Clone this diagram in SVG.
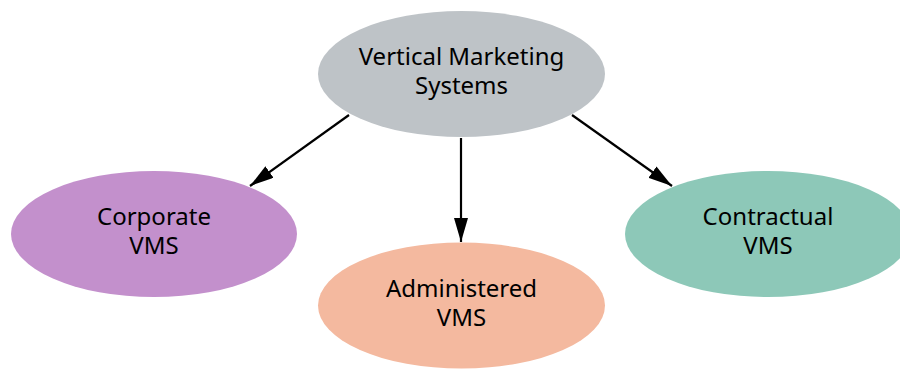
<svg xmlns="http://www.w3.org/2000/svg" width="900" height="369" viewBox="0 0 900 369">
<defs>
<style>
.lbl{font-family:"Noto Sans","Open Sans",sans-serif;font-size:24px;fill:#000;text-anchor:middle}
.edge{stroke:#000;stroke-width:2.2;fill:none}
</style>
<marker id="ah" markerWidth="24" markerHeight="14" refX="24" refY="7" orient="auto" markerUnits="userSpaceOnUse">
<path d="M0,0 L24,7 L0,14 Z" fill="#000"/>
</marker>
</defs>
<rect width="900" height="369" fill="#fff"/>
<g id="connectors">
<line class="edge" x1="349" y1="115" x2="250" y2="186" marker-end="url(#ah)"/>
<line class="edge" x1="461" y1="138" x2="461" y2="242" marker-end="url(#ah)"/>
<line class="edge" x1="572" y1="115" x2="672" y2="186" marker-end="url(#ah)"/>
</g>
<g id="vms">
<ellipse cx="461.5" cy="74" rx="143.5" ry="63" fill="#BEC3C7"/>
<text class="lbl" x="461.5" y="65">Vertical Marketing</text>
<text class="lbl" x="461.5" y="94">Systems</text>
</g>
<g id="corporate">
<ellipse cx="154" cy="234" rx="143" ry="63" fill="#C390CC"/>
<text class="lbl" x="154" y="225">Corporate</text>
<text class="lbl" x="154" y="254">VMS</text>
</g>
<g id="administered">
<ellipse cx="461.5" cy="305.5" rx="143.5" ry="63" fill="#F4B99F"/>
<text class="lbl" x="461.5" y="297">Administered</text>
<text class="lbl" x="461.5" y="326">VMS</text>
</g>
<g id="contractual">
<ellipse cx="768" cy="234" rx="143" ry="63" fill="#8DC8B8"/>
<text class="lbl" x="768" y="225">Contractual</text>
<text class="lbl" x="768" y="254">VMS</text>
</g>
</svg>
